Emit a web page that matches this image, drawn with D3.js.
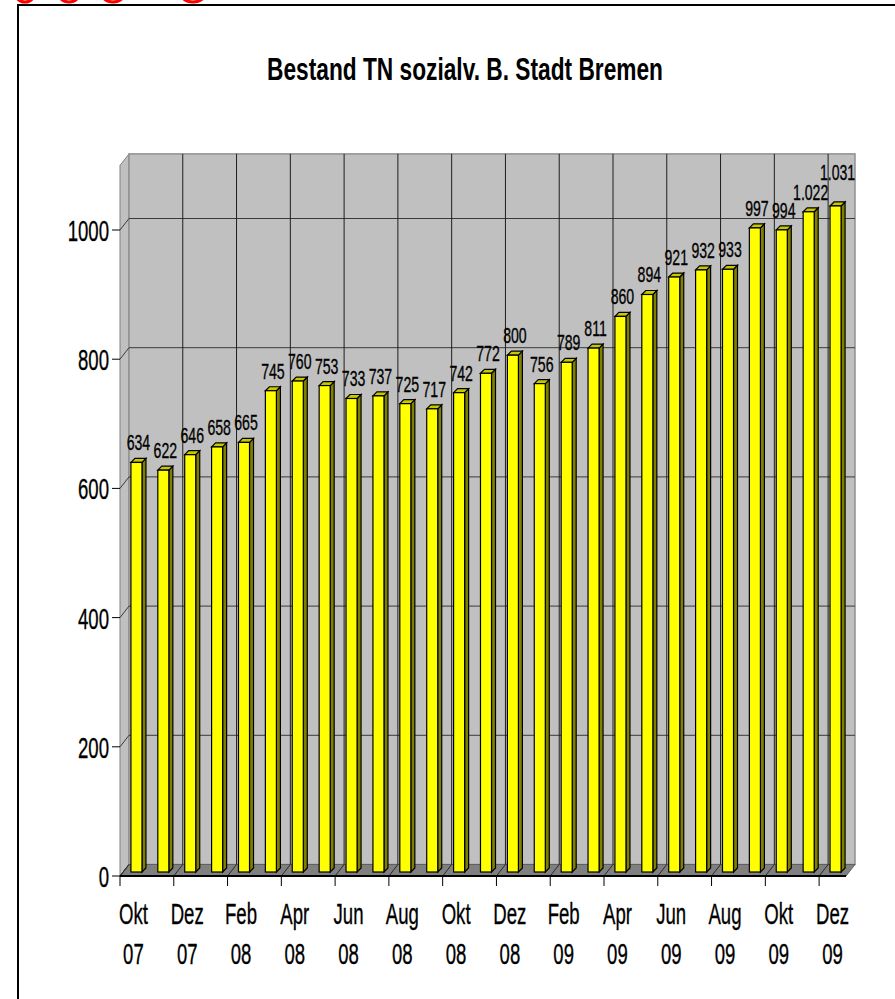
<!DOCTYPE html>
<html>
<head>
<meta charset="utf-8">
<script src="https://cdn.jsdelivr.net/npm/d3@7"></script>
<style>
  body { margin: 0; background: #fff; }
  text { font-family: "Liberation Sans", Arial, sans-serif; fill: #000; stroke: #000; stroke-width: 0.35; }
</style>
</head>
<body>
<div id="chart"></div>
<script>
// data, monthly Okt 07 .. Dez 09
var months = ["Okt 07","Nov 07","Dez 07","Jan 08","Feb 08","Mrz 08","Apr 08","Mai 08","Jun 08",
              "Jul 08","Aug 08","Sep 08","Okt 08","Nov 08","Dez 08","Jan 09","Feb 09","Mrz 09",
              "Apr 09","Mai 09","Jun 09","Jul 09","Aug 09","Sep 09","Okt 09","Nov 09","Dez 09"];
var values = [634,622,646,658,665,745,760,753,733,737,725,717,742,772,800,756,789,811,
              860,894,921,932,933,997,994,1022,1031];
var yTicks = [0,200,400,600,800,1000];
var titleText = "Bestand TN sozialv. B. Stadt Bremen";

var W = 895, H = 999;
var svg = d3.select("#chart").append("svg")
    .attr("width", W).attr("height", H);

// cut off red marks at the very top
var redMarks = [[25,10],[69,11],[113,12],[193,13]];
svg.selectAll(".red").data(redMarks).enter().append("ellipse")
    .attr("cx", d => d[0]).attr("cy", -8)
    .attr("rx", d => d[1]).attr("ry", 10)
    .attr("fill", "none").attr("stroke", "#ff0000").attr("stroke-width", 3);

// frame
svg.append("rect").attr("x", 18).attr("y", 5).attr("width", 900).attr("height", 1010)
    .attr("fill", "none").attr("stroke", "#000").attr("stroke-width", 2);

function txt(x, y, s, size, anchor, weight, sx) {
  sx = sx || 0.62;
  var t = svg.append("text")
      .attr("transform", "translate(" + x + "," + y + ") scale(" + sx + ",1)")
      .attr("text-anchor", anchor || "middle")
      .attr("font-size", size)
      .attr("font-weight", weight || "normal")
      .text(s);
  t.sx = sx;
  return t;
}

txt(465, 80, titleText, 32, "middle", "bold", 0.71).style("stroke-width", 0);

// 3d geometry
var x0 = 120, plotW = 726;
var ddx = 9, ddy = -11.5;      // wall depth
var bdx = 3, bdy = -4;         // bar offset into the depth
var bw = 4, bh = -4;           // bar depth

var x = d3.scaleBand().domain(months).range([x0, x0 + plotW])
    .paddingInner(0.59).paddingOuter(0.295);
var step = x.step();
var y = d3.scaleLinear().domain([0, 1100]).range([876, 876 - 1100 * 0.646]);

var yTop = y(1100), yBot = y(0);

// side wall
svg.append("polygon")
    .attr("points", [[x0, yBot], [x0 + ddx, yBot + ddy], [x0 + ddx, yTop + ddy], [x0, yTop]].join(" "))
    .attr("fill", "#c0c0c0").attr("stroke", "#808080").attr("stroke-width", 1);
// back wall
svg.append("rect")
    .attr("x", x0 + ddx).attr("y", yTop + ddy)
    .attr("width", plotW).attr("height", yBot - yTop)
    .attr("fill", "#c0c0c0").attr("stroke", "#909090").attr("stroke-width", 1.5);
// floor
svg.append("polygon")
    .attr("points", [[x0, yBot], [x0 + plotW, yBot], [x0 + plotW + ddx, yBot + ddy], [x0 + ddx, yBot + ddy]].join(" "))
    .attr("fill", "#808080").attr("stroke", "#606060").attr("stroke-width", 1);

// horizontal gridlines (back wall + side wall)
yTicks.filter(d => d > 0).forEach(function(t) {
  svg.append("line").attr("x1", x0 + ddx).attr("x2", x0 + ddx + plotW)
      .attr("y1", y(t) + ddy).attr("y2", y(t) + ddy)
      .attr("stroke", "#3a3a3a").attr("stroke-width", 1);
  svg.append("line").attr("x1", x0).attr("x2", x0 + ddx)
      .attr("y1", y(t)).attr("y2", y(t) + ddy)
      .attr("stroke", "#3a3a3a").attr("stroke-width", 1);
});
svg.append("line").attr("x1", x0).attr("x2", x0 + ddx)
    .attr("y1", yBot).attr("y2", yBot + ddy).attr("stroke", "#3a3a3a");

// vertical gridlines every two months
var tickIdx = d3.range(0, months.length + 1, 2);
tickIdx.forEach(function(i) {
  var xx = x0 + i * step;
  if (i > 0 && i < months.length) {
    svg.append("line").attr("x1", xx + ddx).attr("x2", xx + ddx)
        .attr("y1", yTop + ddy).attr("y2", yBot + ddy)
        .attr("stroke", "#1e1e1e").attr("stroke-width", 1);
  }
  svg.append("line").attr("x1", xx).attr("x2", xx + ddx)
      .attr("y1", yBot).attr("y2", yBot + ddy)
      .attr("stroke", "#2a2a2a").attr("stroke-width", 1);
});

// bars
var fmt = d3.formatLocale({decimal: ",", thousands: ".", grouping: [3], currency: ["", "€"]}).format(",d");
var bars = svg.append("g");
months.forEach(function(m, i) {
  var v = values[i];
  var bx = x(m) + bdx, by = y(v) + bdy, b0 = y(0) + bdy, w = x.bandwidth();
  bars.append("polygon")   // side
      .attr("points", [[bx + w, b0], [bx + w + bw, b0 + bh], [bx + w + bw, by + bh], [bx + w, by]].join(" "))
      .attr("fill", "#808000").attr("stroke", "#000").attr("stroke-width", 1.2);
  bars.append("polygon")   // top
      .attr("points", [[bx, by], [bx + bw, by + bh], [bx + w + bw, by + bh], [bx + w, by]].join(" "))
      .attr("fill", "#c8c800").attr("stroke", "#000").attr("stroke-width", 1.2);
  bars.append("rect")      // front
      .attr("x", bx).attr("y", by).attr("width", w).attr("height", b0 - by)
      .attr("fill", "#ffff00").attr("stroke", "#000").attr("stroke-width", 1.2);
});

// value labels, pushed up when they would collide with the previous one
var prev = null;
months.forEach(function(m, i) {
  var v = values[i];
  var cx = x(m) + bdx + x.bandwidth() / 2 + bw / 2;
  var base = y(v) + bdy + bh - 8;
  var t = txt(cx, base, fmt(v), 22, "middle", "normal", 0.64);
  var len = t.node().getComputedTextLength() * t.sx;
  var box = {x1: cx - len / 2, x2: cx + len / 2, top: base - 16, bot: base};
  if (prev && box.x1 < prev.x2 - 1 && box.bot > prev.top) {
    base = prev.top - 4;
    t.attr("transform", "translate(" + cx + "," + base + ") scale(" + t.sx + ",1)");
    box.top = base - 16; box.bot = base;
  }
  prev = box;
});

// y axis
yTicks.forEach(function(t) {
  svg.append("line").attr("x1", x0 - 8).attr("x2", x0)
      .attr("y1", y(t)).attr("y2", y(t)).attr("stroke", "#000");
  txt(x0 - 11, y(t) + 11, String(t), 30, "end");
});

// x axis
svg.append("line").attr("x1", x0).attr("x2", x0 + plotW)
    .attr("y1", yBot).attr("y2", yBot).attr("stroke", "#000").attr("stroke-width", 2);
tickIdx.forEach(function(i) {
  var xx = x0 + i * step;
  svg.append("line").attr("x1", xx).attr("x2", xx)
      .attr("y1", yBot).attr("y2", yBot + 10).attr("stroke", "#000");
});
months.forEach(function(m, i) {
  if (i % 2) return;
  var cx = x0 + (i + 0.5) * step;
  var parts = m.split(" ");
  txt(cx, 924, parts[0], 30, "middle");
  txt(cx, 964, parts[1], 30, "middle");
});
</script>
</body>
</html>
